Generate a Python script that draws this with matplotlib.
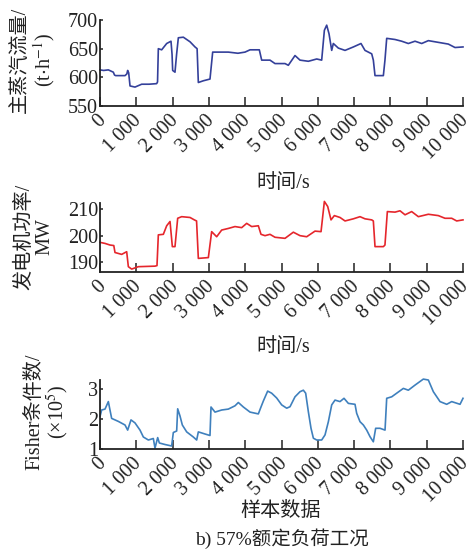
import matplotlib
matplotlib.use("Agg")
import matplotlib.pyplot as plt
from matplotlib.transforms import ScaledTranslation

plt.rcParams['font.family'] = ['Liberation Serif', 'Noto Sans CJK SC']
plt.rcParams['mathtext.fontset'] = 'stix'
plt.rcParams['axes.unicode_minus'] = False

# ---- data ----
steam_x = [0, 100, 230, 367, 400, 432, 689, 740, 762, 790, 827, 964, 1148, 1350,
           1561, 1585, 1607, 1699, 1837, 1956, 1985, 2002, 2066, 2110, 2158, 2296,
           2480, 2617, 2675, 2709, 2847, 3030, 3104, 3260, 3535, 3800, 3995, 4133,
           4389, 4454, 4683, 4821, 5097, 5188, 5372, 5510, 5740, 5970, 6107, 6181,
           6245, 6309, 6383, 6428, 6566, 6750, 6980, 7190, 7300, 7485, 7530, 7576,
           7806, 7850, 7898, 8127, 8311, 8494, 8678, 8862, 9045, 9320, 9596, 9780,
           10000]
steam_y = [613, 612, 613, 609, 604, 603, 603, 606, 612, 608, 585, 583, 588, 588,
           589, 592, 650, 648, 659, 663, 640, 612, 609, 640, 669, 670,
           662, 653, 650, 591, 594, 597, 644, 644, 644, 642, 644, 648,
           648, 630, 630, 624, 624, 621, 638, 630, 628, 632, 630, 682,
           691, 676, 647, 659, 651, 647, 653, 659, 647, 641, 630, 603,
           603, 630, 668, 666, 663, 659, 663, 659, 664, 661, 658, 652,
           653]

power_x = [0, 138, 275, 380, 413, 597, 735, 781, 872, 1056, 1515, 1570, 1607, 1745,
           1837, 1929, 1993, 2066, 2140, 2250, 2480, 2599, 2660, 2709, 2985, 3076,
           3214, 3352, 3535, 3719, 3903, 4041, 4179, 4362, 4435, 4546, 4683, 4821,
           5097, 5326, 5510, 5694, 5923, 6089, 6181, 6273, 6364, 6456, 6612, 6750,
           6980, 7163, 7300, 7485, 7530, 7576, 7806, 7850, 7916, 8127, 8265, 8403,
           8586, 8770, 9045, 9320, 9504, 9689, 9826, 10000]
power_y = [197.5, 197.1, 196.5, 196.3, 193.7, 193.0, 194.0, 188.4, 187.5, 188.4,
           188.6, 188.8, 200.3, 200.5, 203.7, 205.3, 195.9, 195.9, 206.5, 207.1,
           206.8, 205.9, 205.5, 191.5, 191.8, 201.5, 199.6, 202.1, 202.7, 203.4,
           203.0, 204.6, 203.4, 203.7, 200.5, 200.0, 200.5, 199.4, 199.0, 201.3,
           200.0, 199.6, 201.7, 201.5, 212.8, 210.9, 205.9, 207.5, 206.8, 205.5,
           206.3, 207.1, 206.3, 205.9, 205.5, 195.9, 195.9, 196.5, 209.0, 208.8,
           209.3, 207.8, 209.0, 207.1, 208.0, 207.5, 206.5, 206.5, 205.5, 205.9]

fisher_x = [0, 46, 138, 230, 275, 321, 505, 689, 762, 854, 964, 1102, 1194, 1332,
            1469, 1515, 1589, 1635, 1790, 1974, 2020, 2112, 2140, 2204, 2268, 2388,
            2571, 2663, 2709, 2893, 3030, 3058, 3168, 3352, 3535, 3719, 3811, 3949,
            4133, 4362, 4435, 4500, 4619, 4729, 4867, 5005, 5143, 5235, 5372, 5510,
            5602, 5666, 5740, 5813, 5878, 5970, 6107, 6199, 6291, 6383, 6474, 6612,
            6722, 6842, 7025, 7071, 7163, 7255, 7347, 7439, 7530, 7594, 7714, 7852,
            7898, 8036, 8173, 8357, 8494, 8678, 8907, 9045, 9183, 9367, 9551, 9689,
            9918, 10000]
fisher_y = [2.08, 2.30, 2.33, 2.58, 2.30, 2.02, 1.92, 1.80, 1.63, 1.97, 1.87, 1.63,
            1.40, 1.30, 1.35, 1.03, 1.38, 1.20, 1.15, 1.10, 1.55, 1.60, 2.34, 2.10,
            1.80, 1.57, 1.40, 1.30, 1.57, 1.50, 1.45, 2.40, 2.23, 2.30, 2.33, 2.44,
            2.55, 2.40, 2.23, 2.17, 2.40, 2.60, 2.93, 2.86, 2.70, 2.47, 2.36, 2.41,
            2.74, 2.91, 2.96, 2.86, 2.24, 1.69, 1.36, 1.30, 1.30, 1.47, 1.91, 2.47,
            2.63, 2.58, 2.69, 2.52, 2.49, 2.19, 1.91, 1.80, 1.63, 1.41, 1.24, 1.69,
            1.69, 1.63, 2.69, 2.74, 2.86, 3.02, 2.96, 3.13, 3.33, 3.30, 2.91, 2.58,
            2.49, 2.58, 2.49, 2.69]

x_ticks = [0, 1000, 2000, 3000, 4000, 5000, 6000, 7000, 8000, 9000, 10000]
x_ticklabels = ['0', '1 000', '2 000', '3 000', '4 000', '5 000', '6 000',
                '7 000', '8 000', '9 000', '10 000']

steam_ticks = [550, 600, 650, 700]
power_ticks = [190, 200, 210]
fisher_ticks = [1, 2, 3]

W, H = 473, 552
fig = plt.figure(figsize=(W / 100, H / 100), dpi=100)

tc = '#222222'
fs = 14.5
tfs = 14.5


def fx(px):
    return px / W


def fy(py):
    return 1 - py / H


def make_ax(top, bottom):
    ax = fig.add_axes([fx(100), fy(bottom), fx(463) - fx(100), fy(top) - fy(bottom)])
    for s in ('top', 'right'):
        ax.spines[s].set_visible(False)
    for s in ('left', 'bottom'):
        ax.spines[s].set_linewidth(1.3)
        ax.spines[s].set_color(tc)
    ax.set_xlim(0, 10000)
    ax.set_xticks(x_ticks)
    ax.set_xticklabels(x_ticklabels, rotation=45, ha='right', va='top',
                       rotation_mode='anchor')
    ax.tick_params(axis='x', direction='in', length=6.5, width=1.1, pad=3.5,
                   labelsize=tfs, colors=tc)
    ax.tick_params(axis='y', direction='in', length=2.5, width=1.1, pad=1.5,
                   labelsize=tfs, colors=tc)
    shift = ScaledTranslation(-4 / 100, 0, fig.dpi_scale_trans)
    for lab in ax.get_xticklabels():
        lab.set_transform(lab.get_transform() + shift)
    return ax


lw = 1.2
ax1 = make_ax(20, 106)
ax1.plot(steam_x, steam_y, color='#34409a', lw=lw, clip_on=False)
ax1.set_ylim(550, 700)
ax1.set_yticks(steam_ticks)

ax2 = make_ax(203.3, 272.3)
ax2.plot(power_x, power_y, color='#e5262c', lw=lw, clip_on=False)
ax2.set_ylim(186.3, 212.1)
ax2.set_yticks(power_ticks)

ax3 = make_ax(380, 449)
ax3.plot(fisher_x, fisher_y, color='#3f80bd', lw=lw, clip_on=False)
ax3.set_ylim(1, 3.3)
ax3.set_yticks(fisher_ticks)

fig.text(fx(34), fy(60), '主蒸汽流量/\n(t$\\cdot$h$^{-1}$)', rotation=90,
         ha='center', va='center', multialignment='center', fontsize=fs,
         color=tc, linespacing=1.1)
fig.text(fx(35), fy(237), '发电机功率/\nMW', rotation=90,
         ha='center', va='center', multialignment='center', fontsize=fs,
         color=tc, linespacing=1.1)
fig.text(fx(48), fy(412), 'Fisher条件数/\n(×10$^{5}$)', rotation=90,
         ha='center', va='center', multialignment='center', fontsize=fs,
         color=tc, linespacing=1.0)

fig.text(fx(283), fy(183), '时间/s', ha='center', va='center', fontsize=fs, color=tc)
fig.text(fx(283), fy(347), '时间/s', ha='center', va='center', fontsize=fs, color=tc)
fig.text(fx(281), fy(511), '样本数据', ha='center', va='center', fontsize=fs, color=tc)
fig.text(fx(282), fy(539), 'b) 57%额定负荷工况', ha='center', va='center',
         fontsize=14, color=tc)

fig.savefig('out.png', dpi=100)
